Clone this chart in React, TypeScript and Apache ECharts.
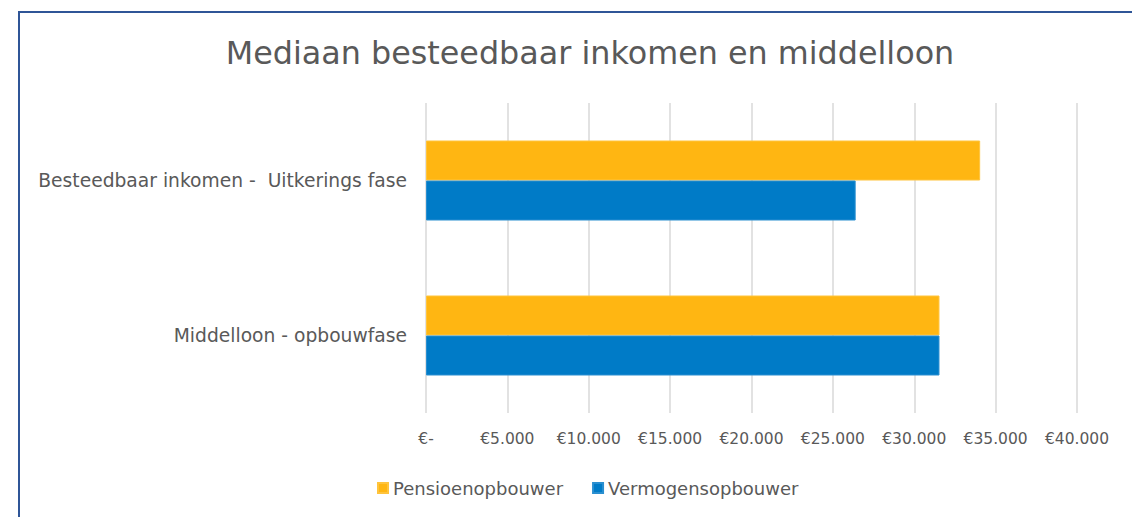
import React, { useEffect, useRef } from "react";
import * as echarts from "echarts";

const categories = ["Besteedbaar inkomen -  Uitkerings fase", "Middelloon - opbouwfase"];
const seriesNames = ["Pensioenopbouwer", "Vermogensopbouwer"];
const pensioenValues = [34050, 31550];
const vermogenValues = [26400, 31550];
const xTicks = { min: 0, max: 40000, interval: 5000 };
const titleText = "Mediaan besteedbaar inkomen en middelloon";

const fmt = (v: number) => {
  if (v === 0) return "€-";
  const s = String(Math.round(v));
  return "€" + s.replace(/\B(?=(\d{3})+(?!\d))/g, ".");
};

export default function App() {
  const ref = useRef<HTMLDivElement>(null);
  useEffect(() => {
    if (!ref.current) return;
    const chart = echarts.init(ref.current, undefined, { renderer: "svg" });
    const font = "DejaVu Sans, Verdana, sans-serif";
    chart.setOption({
      animation: false,
      textStyle: { fontFamily: font },
      title: {
        text: titleText,
        left: 585,
        top: 31,
        textAlign: "center",
        textStyle: { fontFamily: font, fontSize: 31.8, fontWeight: "normal", color: "#595959" },
      },
      legend: {
        left: 372,
        top: 474,
        itemWidth: 10,
        itemHeight: 10,
        itemGap: 29,
        icon: "rect",
        textStyle: { fontFamily: font, fontSize: 18, color: "#595959" },
        data: seriesNames,
      },
      grid: { left: 426, right: 55, top: 103, bottom: 104, containLabel: false },
      xAxis: {
        type: "value",
        min: xTicks.min,
        max: xTicks.max,
        interval: xTicks.interval,
        axisLine: { show: false },
        axisTick: { show: false },
        splitLine: { show: true, lineStyle: { color: "#D9D9D9", width: 1.5 } },
        axisLabel: {
          formatter: fmt,
          margin: 18,
          fontFamily: font,
          fontSize: 15.5,
          color: "#595959",
        },
      },
      yAxis: {
        type: "category",
        inverse: true,
        data: categories,
        axisLine: { show: false },
        axisTick: { show: false },
        axisLabel: { margin: 19, fontFamily: font, fontSize: 18.7, color: "#595959" },
      },
      series: [
        {
          name: seriesNames[0],
          type: "bar",
          data: pensioenValues,
          barWidth: 40,
          barGap: "0%",
          itemStyle: { color: "#FFB612", borderColor: "#FFC43D", borderWidth: 1 },
        },
        {
          name: seriesNames[1],
          type: "bar",
          data: vermogenValues,
          barWidth: 40,
          barGap: "0%",
          itemStyle: { color: "#007BC7", borderColor: "#2A8FD0", borderWidth: 1 },
        },
      ],
      graphic: [
        {
          type: "rect",
          shape: { x: 19, y: 12, width: 1200, height: 600 },
          style: { fill: "none", stroke: "#2F5597", lineWidth: 2 },
          silent: true,
        },
      ],
    });
    return () => chart.dispose();
  }, []);
  return (
    <div
      ref={ref}
      style={{ position: "fixed", left: 0, top: 0, width: 1132, height: 517, background: "#fff" }}
    />
  );
}
